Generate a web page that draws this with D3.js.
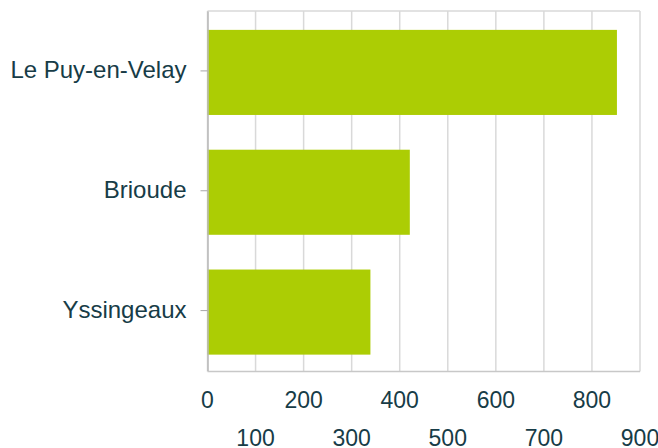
<!DOCTYPE html>
<html>
<head>
<meta charset="utf-8">
<script src="https://cdn.jsdelivr.net/npm/d3@7"></script>
<style>
  body { margin: 0; background: #fff; }
  svg text { font-family: "Liberation Sans", Arial, Helvetica, sans-serif; fill: #173c47; }
</style>
</head>
<body>
<div id="chart"></div>
<script>
// data
const towns = ["Le Puy-en-Velay", "Brioude", "Yssingeaux"];
const values = [852, 421, 339];
const xTicks = [0, 100, 200, 300, 400, 500, 600, 700, 800, 900];

let width = 658,
    height = 448,
    margin = {left: 207.5, right: 18, top: 11, bottom: 76.5};

let svg = d3.select("#chart").append("svg")
    .attr("width", width)
    .attr("height", height);

let x = d3.scaleLinear().domain([0, 900]).range([margin.left, width - margin.right]);
let y = d3.scaleBand().domain(towns).range([12.5, 372]).paddingInner(0.29).paddingOuter(0.145);

// grid
svg.selectAll(".grid").data(xTicks).enter().append("line")
    .attr("class", "grid")
    .attr("x1", d => x(d)).attr("x2", d => x(d))
    .attr("y1", margin.top).attr("y2", height - margin.bottom)
    .style("stroke", "#d9d9d9")
    .style("stroke-width", 1.5);

// top border
svg.append("line")
    .attr("x1", x(0)).attr("x2", x(900))
    .attr("y1", margin.top).attr("y2", margin.top)
    .style("stroke", "#d9d9d9").style("stroke-width", 1.5);

// bars
svg.selectAll(".bar").data(values).enter().append("rect")
    .attr("class", "bar")
    .attr("x", x(0))
    .attr("y", (d, i) => y(towns[i]))
    .attr("width", d => x(d) - x(0))
    .attr("height", y.bandwidth())
    .style("fill", "#accd04");

// bottom axis line
svg.append("line")
    .attr("x1", x(0)).attr("x2", x(900))
    .attr("y1", height - margin.bottom).attr("y2", height - margin.bottom)
    .style("stroke", "#c8c8c8").style("stroke-width", 1.5);

// left axis
let yAxis = svg.append("g")
    .attr("transform", "translate(" + x(0) + ",-1.5)")
    .call(d3.axisLeft(y).tickSize(7).tickSizeOuter(0).tickPadding(14));
yAxis.select(".domain").style("stroke", "#b8b8b8").style("stroke-width", 1.5);
yAxis.selectAll(".tick line").style("stroke", "#a8a8a8");
yAxis.selectAll("text").style("font-size", "24px").style("fill", "#173c47").attr("dy", "0.3em");

// x tick labels, staggered on two rows
svg.selectAll(".xlab").data(xTicks).enter().append("text")
    .attr("class", "xlab")
    .attr("x", d => x(d))
    .attr("y", (d, i) => i % 2 == 0 ? 408 : 446)
    .attr("text-anchor", "middle")
    .style("font-size", "23px")
    .text(d => d);
</script>
</body>
</html>
